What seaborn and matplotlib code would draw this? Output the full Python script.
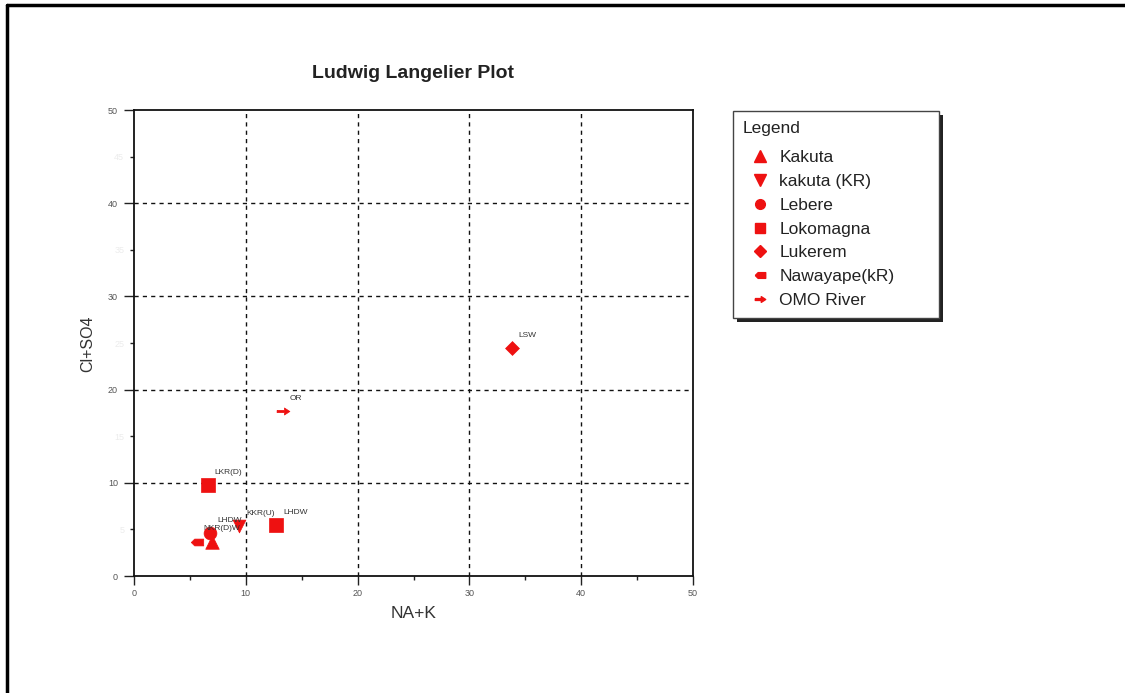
import matplotlib
matplotlib.use("Agg")
import matplotlib.pyplot as plt
from matplotlib.lines import Line2D
from matplotlib.patches import Rectangle
from matplotlib.ticker import MultipleLocator, FixedFormatter
import numpy as np
import pandas as pd
import seaborn as sns

# Sample groups and their ion sums (meq/l)
groups = ["Kakuta", "kakuta (KR)", "Lebere", "Lokomagna", "Lokomagna",
          "Lukerem", "Nawayape(kR)", "OMO River"]
na_k = [7.0, 9.4, 6.8, 6.6, 12.7, 33.8, 5.6, 13.3]
cl_so4 = [3.6, 5.4, 4.6, 9.8, 5.5, 24.5, 3.7, 17.7]
site_labels = ["", "KKR(U)", "LHDW", "LKR(D)", "LHDW", "LSW", "NKR(D)W", "OR"]
legend_order = ["Kakuta", "kakuta (KR)", "Lebere", "Lokomagna", "Lukerem",
                "Nawayape(kR)", "OMO River"]

x_ticks = [0, 10, 20, 30, 40, 50]
y_ticks = [0, 10, 20, 30, 40, 50]
y_minor_ticks = [5, 15, 25, 35, 45]

df = pd.DataFrame({"Group": groups, "NA+K": na_k, "Cl+SO4": cl_so4,
                   "Site": site_labels})

# Custom marker shapes: a left-pointing tab and a right-pointing arrow
tab_marker = [(-1.0, 0.0), (-0.45, 0.55), (1.0, 0.55), (1.0, -0.55),
              (-0.45, -0.55), (-1.0, 0.0)]
arrow_marker = [(-1.0, 0.18), (0.15, 0.18), (0.15, 0.55), (1.0, 0.0),
                (0.15, -0.55), (0.15, -0.18), (-1.0, -0.18), (-1.0, 0.18)]

markers = {
    "Kakuta": "^",
    "kakuta (KR)": "v",
    "Lebere": "o",
    "Lokomagna": "s",
    "Lukerem": "D",
    "Nawayape(kR)": tab_marker,
    "OMO River": arrow_marker,
}
sizes = {
    "Kakuta": 95, "kakuta (KR)": 85, "Lebere": 85, "Lokomagna": 90,
    "Lukerem": 50, "Nawayape(kR)": 80, "OMO River": 85,
}
legend_sizes = {
    "Kakuta": 9, "kakuta (KR)": 9, "Lebere": 7, "Lokomagna": 7.5,
    "Lukerem": 6, "Nawayape(kR)": 7.5, "OMO River": 7.5,
}

sns.set_style("white")
plt.rcParams["font.family"] = ["Liberation Sans", "DejaVu Sans"]

red = "#ee1111"
W, H = 1125, 693

fig = plt.figure(figsize=(W / 100, H / 100), dpi=100)
ax = fig.add_axes([134 / W, 1 - 576 / H, 559 / W, 466 / H])

for grp in legend_order:
    sub = df[df["Group"] == grp]
    sns.scatterplot(data=sub, x="NA+K", y="Cl+SO4", ax=ax, color=red,
                    marker=markers[grp], s=sizes[grp], edgecolor=red,
                    linewidth=0.5, legend=False, zorder=3)

for _, row in df.iterrows():
    if row["Site"]:
        ax.annotate(row["Site"], (row["NA+K"], row["Cl+SO4"]),
                    xytext=(5, 8), textcoords="offset points",
                    fontsize=6, color="#333333", zorder=4)

ax.set_xlim(0, 50)
ax.set_ylim(0, 50)
ax.set_xticks(x_ticks)
ax.set_yticks(y_ticks)
ax.set_yticks(y_minor_ticks, minor=True)
ax.yaxis.set_minor_formatter(FixedFormatter([str(v) for v in y_minor_ticks]))
ax.xaxis.set_minor_locator(MultipleLocator(5))
ax.tick_params(axis="x", which="major", direction="out", length=6.5,
               width=1, color="#222222", labelsize=6.5, labelcolor="#555555",
               pad=3)
ax.tick_params(axis="y", which="major", direction="out", length=7.5,
               width=1, color="#222222", labelsize=6.5, labelcolor="#555555",
               pad=4)
ax.tick_params(axis="both", which="minor", direction="out", length=3,
               width=1, color="#222222")
ax.tick_params(axis="y", which="minor", labelsize=6.5, labelcolor="#ececec",
               pad=4)
ax.tick_params(axis="x", bottom=True, which="both")
ax.tick_params(axis="y", left=True, which="both")

for v in [10, 20, 30, 40]:
    ax.axvline(v, color="#111111", lw=1.0, ls=(0, (3, 3)), zorder=1)
    ax.axhline(v, color="#111111", lw=1.0, ls=(0, (3, 3)), zorder=1)

for sp in ax.spines.values():
    sp.set_visible(True)
    sp.set_color("#111111")
    sp.set_linewidth(1.3)

ax.set_xlabel("NA+K", fontsize=12.5, color="#333333")
ax.xaxis.set_label_coords(0.5, -(613 - 576) / 466, transform=ax.transAxes)
ax.xaxis.label.set_va("center")
ax.set_ylabel("Cl+SO4", fontsize=11.5, color="#333333")
ax.yaxis.set_label_coords(-(134 - 88) / 559, (576 - 344) / 466,
                          transform=ax.transAxes)
ax.yaxis.label.set_va("center")
fig.text((134 + 693) / 2 / W, 1 - 74 / H, "Ludwig Langelier Plot",
         fontsize=14, fontweight="bold", color="#222222",
         ha="center", va="center")

# Legend box with a drop shadow
lx0, ly0, lw, lh = 733, 111, 206, 207
fig.add_artist(Rectangle(((lx0 + 4) / W, 1 - (ly0 + lh + 4) / H),
                         lw / W, lh / H, transform=fig.transFigure,
                         facecolor="#222222", edgecolor="none", zorder=4))
fig.add_artist(Rectangle((lx0 / W, 1 - (ly0 + lh) / H), lw / W, lh / H,
                         transform=fig.transFigure, facecolor="white",
                         edgecolor="#444444", lw=1.0, zorder=4.5))
fig.text(743 / W, 1 - 128.5 / H, "Legend", fontsize=12.5, color="#222222",
         ha="left", va="center", zorder=6)

handles = []
for grp in legend_order:
    handles.append(Line2D([0], [0], ls="none", marker=markers[grp],
                          markersize=legend_sizes[grp],
                          markerfacecolor=red, markeredgecolor=red,
                          label=grp))
leg = fig.legend(handles=handles, loc="upper left",
                 bbox_to_anchor=(741 / W, 1 - 150 / H),
                 bbox_transform=fig.transFigure, fontsize=12.5,
                 frameon=False, borderpad=0, labelspacing=0.5,
                 handletextpad=0.0, handlelength=2.2, borderaxespad=0)
leg.set_zorder(5)
for t in leg.get_texts():
    t.set_color("#222222")

# Page border along the top and left edges
fig.add_artist(Line2D([7 / W, 7 / W], [0, 1 - 5 / H],
                      transform=fig.transFigure, color="black", lw=2.5))
fig.add_artist(Line2D([7 / W, 1], [1 - 5 / H, 1 - 5 / H],
                      transform=fig.transFigure, color="black", lw=2.5))

fig.savefig("out.png", dpi=100, facecolor="white")
